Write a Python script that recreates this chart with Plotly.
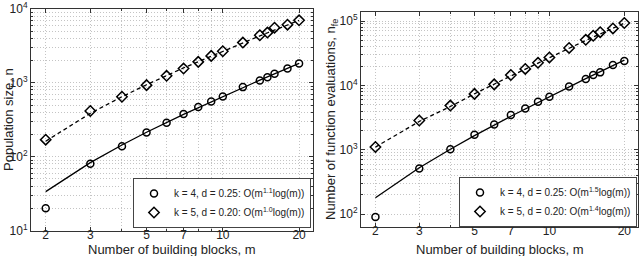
import plotly.graph_objects as go

# ---- data ----
m = [2, 3, 4, 5, 6, 7, 8, 9, 10, 12, 14, 15, 16, 18, 20]

# left panel: population size n
n_k4 = [20, 80, 138, 213, 288, 378, 470, 559, 653, 875, 1074, 1194, 1324, 1560, 1824]
n_k5 = [170, 415, 647, 931, 1244, 1560, 1923, 2318, 2680, 3506, 4416, 4790, 5585, 6140, 7030]
fit_m = [2, 3, 4, 5, 7, 10, 14, 20]
n_fit_k4 = [33.6, 83, 144, 214, 374, 655, 1087, 1829]
n_fit_k5 = [162, 386, 649, 942, 1594, 2694, 4323, 7010]

# right panel: number of function evaluations n_fe
fe_k4 = [90, 511, 1020, 1713, 2472, 3467, 4390, 5580, 6670, 9640, 12580, 14520, 15930, 20750, 23930]
fe_k5 = [1103, 2851, 4853, 7380, 10370, 14510, 18030, 22420, 27170, 38170, 51030, 58950, 67140, 76770, 93110]
fe_fit_k4 = [180, 525, 1020, 1655, 3316, 6699, 12717, 24656]
fe_fit_k5 = [1100, 2750, 4700, 7400, 14000, 26800, 50000, 92500]

labels_left = ["k = 4, d = 0.25: O(m<sup>1.1</sup>log(m))",
               "k = 5, d = 0.20: O(m<sup>1.0</sup>log(m))"]
labels_right = ["k = 4, d = 0.25: O(m<sup>1.5</sup>log(m))",
                "k = 5, d = 0.20: O(m<sup>1.4</sup>log(m))"]

x_major = [2, 3, 5, 7, 10, 20]
x_minor = [4, 6, 8, 9]

FONT = "Liberation Sans, Arial, sans-serif"
W, H = 640, 256
GRID = "#c4c4c4"
DOT = "1px,2px"

fig = go.Figure()

def add_panel(xa, ya, leg, y_k4, y_k5, f_k4, f_k5, labels):
    fig.add_trace(go.Scatter(x=fit_m, y=f_k4, mode="lines", line=dict(color="black", width=1.3),
                             showlegend=False, xaxis=xa, yaxis=ya, hoverinfo="skip"))
    fig.add_trace(go.Scatter(x=fit_m, y=f_k5, mode="lines",
                             line=dict(color="black", width=1.3, dash="4px,3px"),
                             showlegend=False, xaxis=xa, yaxis=ya, hoverinfo="skip"))
    fig.add_trace(go.Scatter(x=m, y=y_k4, mode="markers", name=labels[0], legend=leg,
                             marker=dict(symbol="circle-open", size=7, color="black",
                                         line=dict(width=1.5, color="black")),
                             xaxis=xa, yaxis=ya))
    fig.add_trace(go.Scatter(x=m, y=y_k5, mode="markers", name=labels[1], legend=leg,
                             marker=dict(symbol="diamond-open", size=8, color="black",
                                         line=dict(width=1.5, color="black")),
                             xaxis=xa, yaxis=ya))

add_panel("x", "y", "legend", n_k4, n_k5, n_fit_k4, n_fit_k5, labels_left)
add_panel("x2", "y2", "legend2", fe_k4, fe_k5, fe_fit_k4, fe_fit_k5, labels_right)

grid = dict(showgrid=True, gridcolor=GRID, gridwidth=1, griddash=DOT)

def xaxis(domain, anchor):
    return dict(type="log", domain=domain, range=[0.243, 1.356], anchor=anchor, automargin=False,
                tickmode="array", tickvals=x_major, ticktext=[str(v) for v in x_major],
                ticks="inside", ticklen=4, tickcolor="#333", tickwidth=1, ticklabelstandoff=-7,
                minor=dict(tickmode="array", tickvals=x_minor, ticks="inside", ticklen=2,
                           tickcolor="#333", showgrid=True, gridcolor=GRID, griddash=DOT),
                showline=True, mirror="ticks", linecolor="#333", linewidth=1,
                zeroline=False, tickfont=dict(size=12, color="#222", family=FONT), **grid)

def yaxis(domain, rng, decades, anchor):
    major = [10 ** d for d in decades]
    minor = [k * 10 ** d for d in decades[:-1] for k in range(2, 10)]
    return dict(type="log", domain=domain, range=rng, anchor=anchor, automargin=False,
                tickmode="array", tickvals=major,
                ticktext=["10<sup>%d</sup>" % d for d in decades],
                ticks="inside", ticklen=4, tickcolor="#333", tickwidth=1,
                minor=dict(tickmode="array", tickvals=minor, ticks="inside", ticklen=2,
                           tickcolor="#333", showgrid=True, gridcolor=GRID, griddash=DOT),
                showline=True, mirror="ticks", linecolor="#333", linewidth=1,
                zeroline=False, tickfont=dict(size=12, color="#222", family=FONT), **grid)

leg_common = dict(xanchor="right", yanchor="bottom", bgcolor="white", bordercolor="#444",
                  borderwidth=1, font=dict(size=10, family=FONT, color="#222"),
                  itemwidth=30, tracegroupgap=0)

fig.update_layout(
    width=W, height=H,
    margin=dict(l=0, r=0, t=0, b=0, autoexpand=False),
    paper_bgcolor="white", plot_bgcolor="white",
    font=dict(family=FONT, color="#222"),
    xaxis=xaxis([31 / W, 313 / W], "y"),
    yaxis=yaxis([1 - 230.5 / H, 1 - 9 / H], [1, 4], [1, 2, 3, 4], "x"),
    xaxis2=xaxis([361 / W, 638 / W], "y2"),
    yaxis2=yaxis([1 - 227 / H, 1 - 12 / H], [1.80, 5.14], [2, 3, 4, 5], "x2"),
    legend=dict(x=311 / W, y=1 - 228 / H, **leg_common),
    legend2=dict(x=637 / W, y=1 - 227 / H, **leg_common),
    showlegend=True,
)

ann_font = dict(size=13, family=FONT, color="#222")
fig.add_annotation(text="Population size, n", x=8 / W, y=1 - 120 / H, xref="paper", yref="paper",
                   textangle=-90, showarrow=False, font=ann_font, xanchor="center", yanchor="middle")
fig.add_annotation(text="Number of function evaluations, n<sub>fe</sub>", x=331 / W, y=1 - 120 / H,
                   xref="paper", yref="paper", textangle=-90, showarrow=False, font=ann_font,
                   xanchor="center", yanchor="middle")
fig.add_annotation(text="Number of building blocks, m", x=172 / W, y=1 - 249 / H, xref="paper",
                   yref="paper", showarrow=False, font=ann_font, xanchor="center", yanchor="middle")
fig.add_annotation(text="Number of building blocks, m", x=499.5 / W, y=1 - 249 / H, xref="paper",
                   yref="paper", showarrow=False, font=ann_font, xanchor="center", yanchor="middle")

fig.write_html("out.html", config={"displayModeBar": False},
               post_script="document.body.style.margin='0';")
